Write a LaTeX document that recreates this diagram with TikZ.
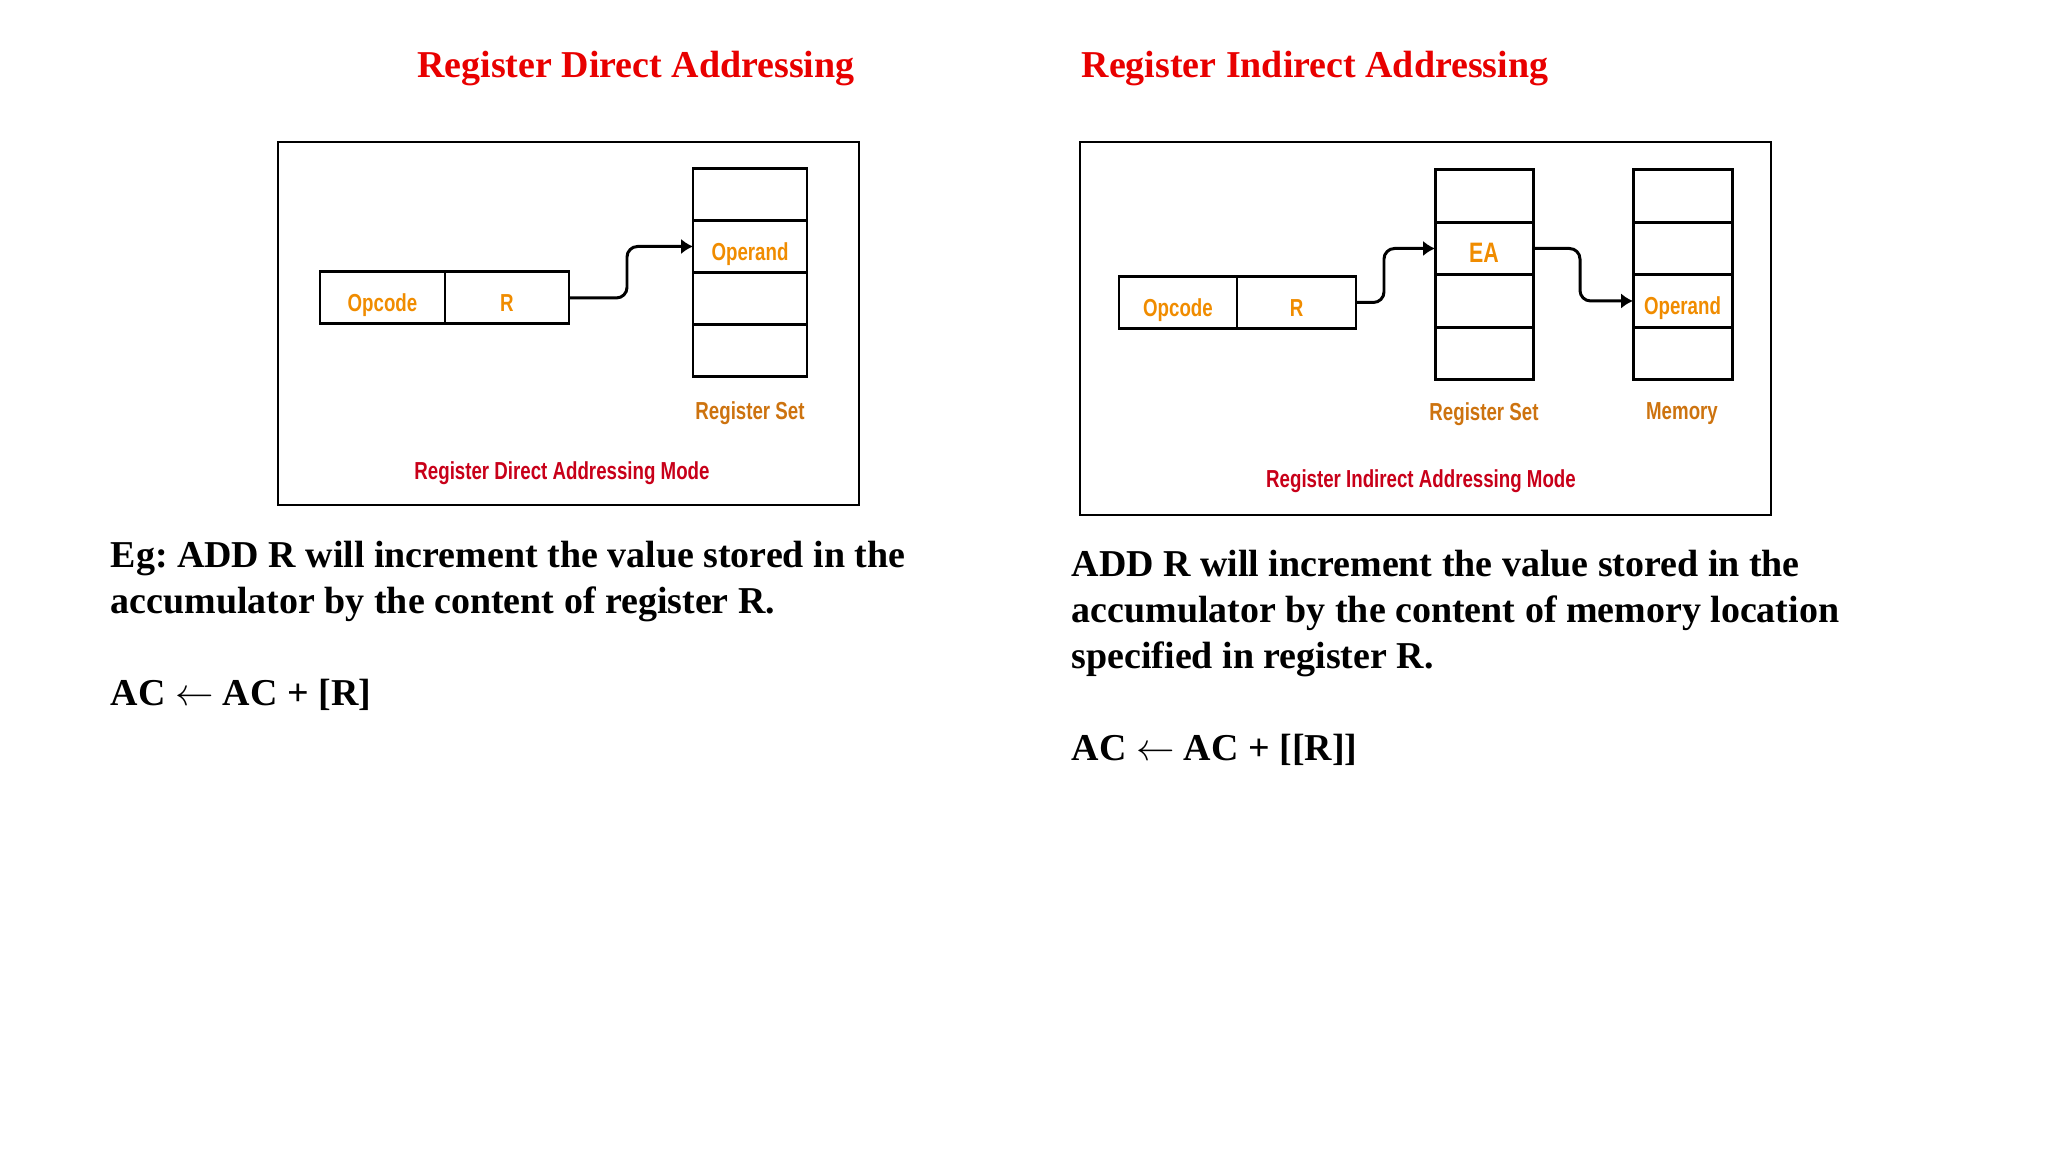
\documentclass[tikz,border=0pt]{standalone}
\usepackage{fontspec}
\setmainfont{Liberation Serif}
\newfontfamily\lblfont[FakeStretch=0.76]{Liberation Sans}
\usetikzlibrary{positioning,arrows.meta}
\definecolor{titlered}{RGB}{232,0,0}
\definecolor{modered}{RGB}{200,0,25}
\definecolor{fieldorange}{RGB}{240,140,0}
\definecolor{setorange}{RGB}{205,115,15}
\frenchspacing

\begin{document}
\begin{tikzpicture}[node distance=0pt, >={Latex[length=3.4pt,width=4.4pt]},
  frame/.style={draw, line width=0.6pt, inner sep=0pt},
  cell/.style={draw, line width=0.85pt, inner sep=0pt, outer sep=0pt, minimum height=0.52cm,
    text height=7.8pt, text depth=0pt,
    text=fieldorange, font={\lblfont\bfseries\fontsize{7}{8}\selectfont}},
  link/.style={line width=0.85pt, rounded corners=3pt},
  title/.style={text=titlered, font={\bfseries\fontsize{10.8}{13}\selectfont}},
  setlabel/.style={text=setorange, font={\lblfont\bfseries\fontsize{7}{8}\selectfont}},
  modelabel/.style={text=modered, font={\lblfont\bfseries\fontsize{7}{8}\selectfont}},
  body/.style={anchor=north west, align=left, inner sep=0pt, font={\bfseries\fontsize{10.8}{13.1}\selectfont}}]
  \useasboundingbox (0,0) rectangle (20.48,11.52);

  \node[title] (dtitle) at (6.36,10.83) {Register Direct Addressing};
  \node[frame, minimum width=5.81cm, minimum height=3.63cm] (dframe) at (5.685,8.285) {};
  \node[cell, minimum width=1.25cm] (dop) at (3.825,8.54) {Opcode};
  \node[cell, minimum width=1.24cm, right=of dop] (dr) {R};
  \node[cell, minimum width=1.14cm] (dset1) at (7.50,9.575) {};
  \node[cell, minimum width=1.14cm, below=of dset1] (dset2) {Operand};
  \node[cell, minimum width=1.14cm, below=of dset2] (dset3) {};
  \node[cell, minimum width=1.14cm, below=of dset3] (dset4) {};
  \node[setlabel] (dsetlbl) at (7.50,7.39) {Register Set};
  \node[modelabel] (dmode) at (5.62,6.79) {Register Direct Addressing Mode};
  \draw[->, link] (dr.east) -- ++(0.58,0) |- (dset2.west);
  \node[body] (dtext) at (1.10,6.12) {Eg: ADD R will increment the value stored in the\\
    accumulator by the content of register R.\\[13.1pt]
    AC $\leftarrow$ AC + [R]};

  \node[title] (ititle) at (13.15,10.83) {Register Indirect Addressing};
  \node[frame, minimum width=6.91cm, minimum height=3.73cm] (iframe) at (14.255,8.235) {};
  \node[cell, minimum width=1.18cm] (iop) at (11.78,8.495) {Opcode};
  \node[cell, minimum width=1.19cm, right=of iop] (ir) {R};
  \node[cell, minimum width=0.98cm, minimum height=0.525cm] (iset1) at (14.84,9.56) {};
  \node[cell, minimum width=0.98cm, minimum height=0.525cm, below=of iset1, font={\lblfont\bfseries\fontsize{8}{9}\selectfont}] (iset2) {EA};
  \node[cell, minimum width=0.98cm, minimum height=0.525cm, below=of iset2] (iset3) {};
  \node[cell, minimum width=0.98cm, minimum height=0.525cm, below=of iset3] (iset4) {};
  \node[cell, minimum width=0.99cm, minimum height=0.525cm] (imem1) at (16.825,9.56) {};
  \node[cell, minimum width=0.99cm, minimum height=0.525cm, below=of imem1] (imem2) {};
  \node[cell, minimum width=0.99cm, minimum height=0.525cm, below=of imem2] (imem3) {Operand};
  \node[cell, minimum width=0.99cm, minimum height=0.525cm, below=of imem3] (imem4) {};
  \node[setlabel] (isetlbl) at (14.84,7.38) {Register Set};
  \node[setlabel] (imemlbl) at (16.82,7.38) {Memory};
  \node[modelabel] (imode) at (14.21,6.71) {Register Indirect Addressing Mode};
  \draw[->, link] (ir.east) -- ++(0.28,0) |- (iset2.west);
  \draw[->, link] (iset2.east) -- ++(0.47,0) |- (imem3.west);
  \node[body] (itext) at (10.71,6.03) {ADD R will increment the value stored in the\\
    accumulator by the content of memory location\\
    specified in register R.\\[13.1pt]
    AC $\leftarrow$ AC + [[R]]};
\end{tikzpicture}
\end{document}
